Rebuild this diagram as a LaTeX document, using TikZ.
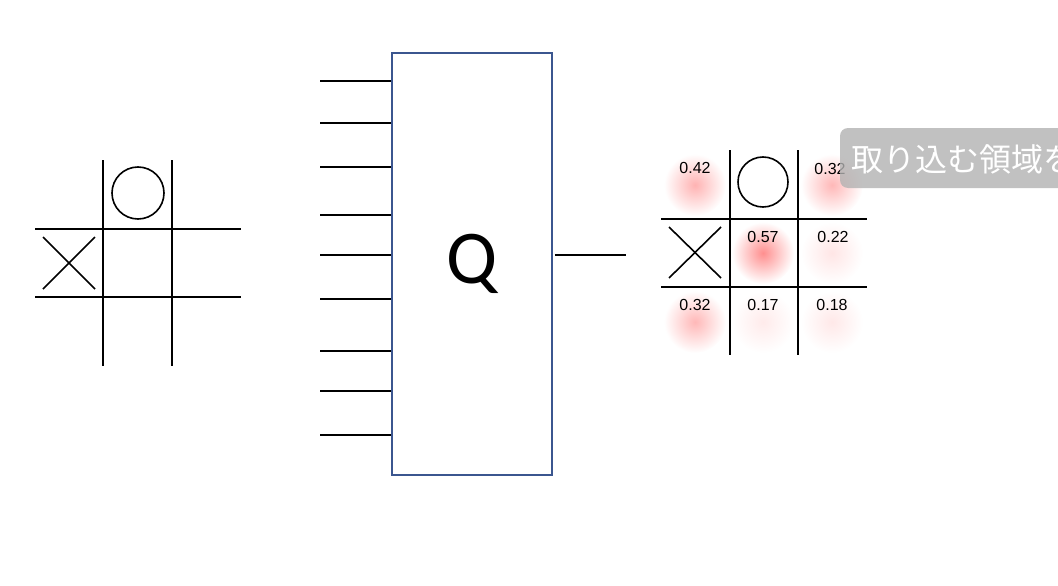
\documentclass[tikz,border=0pt]{standalone}
\usepackage{fontspec}
\setmainfont{Liberation Sans}
\newfontfamily\qfont{Carlito}
\newfontfamily\jpfont{Noto Sans CJK JP}
\usetikzlibrary{positioning}

\tikzset{
    gridline/.style={line width=2pt, black},
    wire/.style={line width=2pt, black},
    piece/.style={line width=1.6pt, black},
    blobdot/.style={inner color=red!#1, outer color=white},
    score/.style={font=\fontsize{16}{16}\selectfont, inner sep=0pt}
}

\begin{document}
\begin{tikzpicture}[x=1pt, y=-1pt]
      \useasboundingbox (0, 0) rectangle (1058, 586);

      % left board
      \draw[gridline] (103, 160) -- (103, 366);
      \draw[gridline] (172, 160) -- (172, 366);
      \draw[gridline] (35, 229) -- (241, 229);
      \draw[gridline] (35, 297) -- (241, 297);
      \draw[piece] (138, 193) circle (26);
      \draw[piece] (43, 237) -- (95, 289);
      \draw[piece] (43, 289) -- (95, 237);

      % Q network
      \node[draw={rgb,255:red,59;green,86;blue,143}, line width=1.5pt,
            minimum width=160pt, minimum height=422pt,
            font=\qfont\fontsize{76}{76}\selectfont] (qbox) at (472, 264) {Q};
      \foreach \y [count=\i] in {81, 123, 167, 215, 255, 299, 351, 391, 435} {
        \coordinate (in\i) at (320, \y);
        \draw[wire] (in\i) -- (in\i -| qbox.west);
      }
      \coordinate (out) at (626, 255);
      \draw[wire, shorten <=2pt] (out -| qbox.east) -- (out);

      % heat of each cell
      \foreach \x/\y/\c in {695/185/30, 832/185/28, 763/253/44, 832/253/10,
                            695/322/28, 763/322/8, 832/322/9} {
        \shade[blobdot=\c] (\x, \y) circle (31);
      }

      % right board
      \draw[gridline] (730, 150) -- (730, 355);
      \draw[gridline] (798, 150) -- (798, 355);
      \draw[gridline] (661, 219) -- (867, 219);
      \draw[gridline] (661, 287) -- (867, 287);
      \draw[piece] (763, 182) circle (25);
      \draw[piece] (669, 227) -- (721, 278);
      \draw[piece] (669, 278) -- (721, 227);

      \node[score] (s1) at (695, 168) {0.42};
      \node[score] (s3) at (830, 169) {0.32};
      \node[score] (s5) at (763, 237) {0.57};
      \node[score] (s6) at (833, 237) {0.22};
      \node[score] (s7) at (695, 305) {0.32};
      \node[score] (s8) at (763, 305) {0.17};
      \node[score] (s9) at (832, 305) {0.18};

      % capture overlay
      \fill[gray!60, opacity=0.8, rounded corners=8pt] (840, 128) rectangle (1080, 188);
      \node[anchor=west, white, inner sep=0pt, font=\jpfont\fontsize{32}{32}\selectfont]
            (capture) at (851, 159) {取り込む領域を};
\end{tikzpicture}
\end{document}
